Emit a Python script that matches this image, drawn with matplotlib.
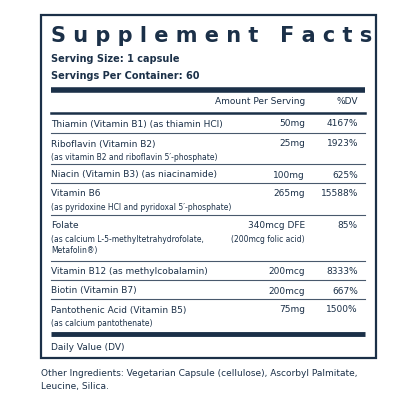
import matplotlib
matplotlib.use("Agg")
import matplotlib.pyplot as plt

C = "#1b3048"
names = ["Thiamin (Vitamin B1) (as thiamin HCl)", "Riboflavin (Vitamin B2)", "Niacin (Vitamin B3) (as niacinamide)",
         "Vitamin B6", "Folate", "Vitamin B12 (as methylcobalamin)", "Biotin (Vitamin B7)",
         "Pantothenic Acid (Vitamin B5)"]
subs = [[], ["(as vitamin B2 and riboflavin 5\u2032-phosphate)"], [],
        ["(as pyridoxine HCl and pyridoxal 5\u2032-phosphate)"],
        ["(as calcium L-5-methyltetrahydrofolate,", "Metafolin\u00ae)"], [], [],
        ["(as calcium pantothenate)"]]
amounts = ["50mg", "25mg", "100mg", "265mg", "340mcg DFE", "200mcg", "200mcg", "75mg"]
amount_subs = ["", "", "", "", "(200mcg folic acid)", "", "", ""]
dv = ["4167%", "1923%", "625%", "15588%", "85%", "8333%", "667%", "1500%"]
row_y = [124, 144, 175, 194, 226, 271, 291, 310]
line_y = [133, 164, 183, 215, 261, 280, 299]

fig = plt.figure(figsize=(4.16, 4.16), dpi=100)
ax = fig.add_axes([0, 0, 1, 1])
ax.set_xlim(0, 416); ax.set_ylim(416, 0); ax.axis("off")
F = "DejaVu Sans"
ax.add_patch(plt.Rectangle((41, 15), 335, 343, fill=False, ec=C, lw=1.6))
ax.text(51, 36, "S u p p l e m e n t   F a c t s", fontsize=15, fontweight="bold", color=C, va="center", family=F)
ax.text(51, 59, "Serving Size: 1 capsule", fontsize=7, fontweight="bold", color=C, va="center", family=F)
ax.text(51, 76, "Servings Per Container: 60", fontsize=7, fontweight="bold", color=C, va="center", family=F)
ax.plot([51, 365], [89.5, 89.5], color=C, lw=4, solid_capstyle="butt")
ax.text(305, 102, "Amount Per Serving", fontsize=6.5, color=C, ha="right", va="center", family=F)
ax.text(358, 102, "%DV", fontsize=6.5, color=C, ha="right", va="center", family=F)
ax.plot([51, 365], [113, 113], color=C, lw=1.8)
for i in range(len(names)):
    y = row_y[i]
    ax.text(51, y, names[i], fontsize=6.5, color=C, va="center", family=F)
    for j, s in enumerate(subs[i]):
        ax.text(51, y + 13 + 12 * j, s, fontsize=5.5, color=C, va="center", family=F)
    ax.text(305, y, amounts[i], fontsize=6.5, color=C, ha="right", va="center", family=F)
    if amount_subs[i]:
        ax.text(305, y + 14, amount_subs[i], fontsize=5.5, color=C, ha="right", va="center", family=F)
    ax.text(358, y, dv[i], fontsize=6.5, color=C, ha="right", va="center", family=F)
for y in line_y:
    ax.plot([51, 365], [y, y], color=C, lw=0.8, alpha=0.8)
ax.plot([51, 365], [333.5, 333.5], color=C, lw=3.5, solid_capstyle="butt")
ax.text(51, 347, "Daily Value (DV)", fontsize=6.5, color=C, va="center", family=F)
ax.text(41, 373, "Other Ingredients: Vegetarian Capsule (cellulose), Ascorbyl Palmitate,", fontsize=6.5, color=C, va="center", family=F)
ax.text(41, 386, "Leucine, Silica.", fontsize=6.5, color=C, va="center", family=F)
fig.savefig("out.png", dpi=100)
